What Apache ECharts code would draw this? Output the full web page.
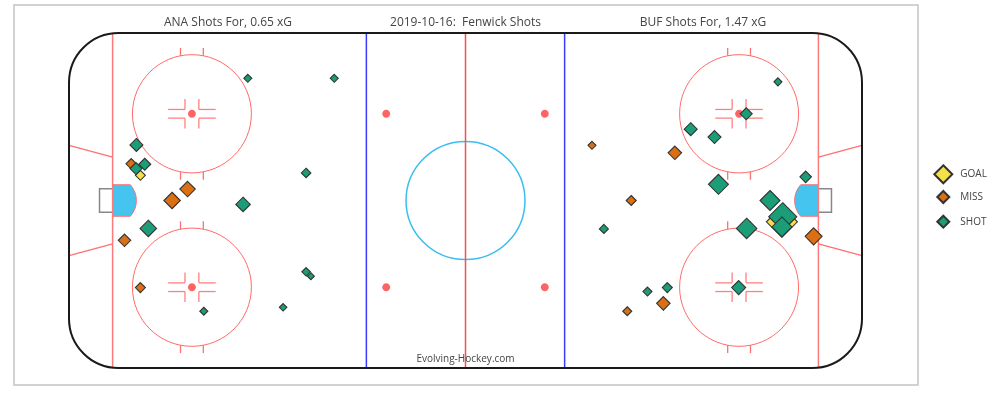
<!DOCTYPE html>
<html>
<head>
<meta charset="utf-8">
<script src="https://cdn.jsdelivr.net/npm/echarts@6/dist/echarts.min.js"></script>
<style>
  html, body { margin: 0; padding: 0; background: #fff; }
  #chart { width: 1000px; height: 397px; }
</style>
</head>
<body>
<div id="chart"></div>
<script>
// shot data: [x ft, y ft, marker size]
var anaGoals = [[-82.0, 6.4, 10]];
var anaMisses = [
    [-84.3, 9.3, 10.5], [-70.1, 2.9, 15.5], [-74.0, 0.0, 16.5],
    [-86.0, -10.1, 12.5], [-82.0, -22.1, 10]
];
var anaShots = [
    [-54.9, 31.0, 8], [-33.1, 31.0, 8], [-83.0, 14.1, 13],
    [-80.9, 9.2, 12], [-83.1, 8.1, 12], [-40.2, 7.0, 9.5],
    [-56.1, -1.0, 14.5], [-80.0, -7.1, 16.5], [-40.2, -18.1, 8.5],
    [-39.0, -19.2, 7], [-66.0, -28.1, 8], [-46.0, -27.1, 7.5]
];
var bufGoals = [[79.8, -5.4, 31]];
var bufMisses = [
    [31.9, 14.0, 8], [52.8, 12.1, 13.5], [41.8, 0.0, 10],
    [87.8, -9.1, 17], [49.9, -26.1, 13.5], [40.8, -28.1, 9]
];
var bufShots = [
    [78.8, 30.1, 8], [70.8, 22.0, 12], [56.8, 18.1, 13],
    [62.8, 16.1, 13], [85.8, 6.0, 11.5], [63.8, 4.1, 20],
    [76.8, 0.0, 20], [80.0, -4.1, 28], [79.8, -6.7, 20],
    [70.9, -7.1, 20.5], [34.9, -7.2, 9], [45.9, -23.1, 9],
    [50.9, -22.1, 10], [68.9, -22.1, 14]
];

var titulos = ['ANA Shots For, 0.65 xG', '2019-10-16:  Fenwick Shots', 'BUF Shots For, 1.47 xG'];
var tipos = ['GOAL', 'MISS', 'SHOT'];
var colores = ['#f5e04b', '#db6f14', '#1b9e77'];

// rink geometry (ft)
var faceoffCircles = [[-69, 22], [-69, -22], [69, 22], [69, -22]];
var neutralDots = [[-20, 22], [-20, -22], [20, 22], [20, -22]];
var blueLines = [-25, 25];
var goalLines = [-89, 89];

function dibujar_pista(params, api) {
    var c = function (x, y) { return api.coord([x, y]); };
    var sx = api.size([1, 0])[0];
    var sy = api.size([0, 1])[1];
    var hijos = [];
    var linea = function (x1, y1, x2, y2, color, w) {
        var a = c(x1, y1), b = c(x2, y2);
        hijos.push({ type: 'line', shape: { x1: a[0], y1: a[1], x2: b[0], y2: b[1] }, style: { stroke: color, lineWidth: w } });
    };
    var tl = c(-100, 42.5), br = c(100, -42.5);
    var esquina = 12.5 * sx;

    hijos.push({ type: 'rect', shape: { x: tl[0], y: tl[1], width: br[0] - tl[0], height: br[1] - tl[1], r: esquina }, style: { fill: '#fff' } });

    // trapezoid
    goalLines.forEach(function (g) {
        var s = g < 0 ? -1 : 1;
        linea(g, 11, s * 100, 14, '#ff7070', 1.3);
        linea(g, -11, s * 100, -14, '#ff7070', 1.3);
    });

    // creases + nets
    goalLines.forEach(function (g) {
        var d = g < 0 ? 1 : -1;
        var p1 = c(g, 4), p2 = c(g + d * 4.47, 4), p3 = c(g + d * 4.47, -4), p4 = c(g, -4);
        var sweep = d > 0 ? 1 : 0;
        var pd = 'M' + p1[0] + ' ' + p1[1] + ' L' + p2[0] + ' ' + p2[1] +
            ' A' + (6 * sx) + ' ' + (6 * sy) + ' 0 0 ' + sweep + ' ' + p3[0] + ' ' + p3[1] +
            ' L' + p4[0] + ' ' + p4[1] + ' Z';
        hijos.push({ type: 'path', shape: { pathData: pd }, style: { fill: '#45c4ef', stroke: '#ff7070', lineWidth: 1 } });
        var n1 = c(g, 3), n2 = c(g - d * 3.3, 3), n3 = c(g - d * 3.3, -3), n4 = c(g, -3);
        hijos.push({ type: 'polyline', shape: { points: [n1, n2, n3, n4] }, style: { fill: null, stroke: '#888', lineWidth: 1.5 } });
    });

    // goal lines
    goalLines.forEach(function (g) { linea(g, 42.5, g, -42.5, '#ff7a7a', 1.5); });

    // faceoff circles
    faceoffCircles.forEach(function (f) {
        var p = c(f[0], f[1]);
        hijos.push({ type: 'ellipse', shape: { cx: p[0], cy: p[1], rx: 15 * sx, ry: 15 * sy }, style: { fill: null, stroke: '#ff6b6b', lineWidth: 1 } });
        hijos.push({ type: 'ellipse', shape: { cx: p[0], cy: p[1], rx: 1 * sx, ry: 1 * sy }, style: { fill: '#ff6464' } });
        [-1, 1].forEach(function (v) {
            [-2.875, 2.875].forEach(function (dx) {
                var y0 = Math.sqrt(225 - dx * dx);
                linea(f[0] + dx, f[1] + v * y0, f[0] + dx, f[1] + v * (y0 + 2), '#ff7070', 1.3);
            });
            [-1, 1].forEach(function (h) {
                linea(f[0] + h * 1.75, f[1] + v * 1.1, f[0] + h * 6, f[1] + v * 1.1, '#ff8080', 1.3);
                linea(f[0] + h * 1.75, f[1] + v * 1.1, f[0] + h * 1.75, f[1] + v * 3.75, '#ff8080', 1.3);
            });
        });
    });

    neutralDots.forEach(function (f) {
        var p = c(f[0], f[1]);
        hijos.push({ type: 'ellipse', shape: { cx: p[0], cy: p[1], rx: 1 * sx, ry: 1 * sy }, style: { fill: '#ff6464' } });
    });

    // center circle, lines
    var cc = c(0, 0);
    hijos.push({ type: 'ellipse', shape: { cx: cc[0], cy: cc[1], rx: 15 * sx, ry: 15 * sy }, style: { fill: null, stroke: '#3cbdf0', lineWidth: 1.5 } });
    blueLines.forEach(function (b) { linea(b, 42.5, b, -42.5, '#3b3bff', 1.5); });
    linea(0, 42.5, 0, -42.5, '#ff4d4d', 1.5);

    // boards
    hijos.push({ type: 'rect', shape: { x: tl[0], y: tl[1], width: br[0] - tl[0], height: br[1] - tl[1], r: esquina }, style: { fill: null, stroke: '#1a1a1a', lineWidth: 2 } });

    return { type: 'group', children: hijos };
}

var myChart01 = echarts.init(document.getElementById('chart'));

var txt = { fontFamily: 'Open Sans', fontWeight: 'normal', color: '#444', fontSize: 12, lineHeight: 14 };
var series = [{
    type: 'custom',
    renderItem: dibujar_pista,
    data: [[0, 0]],
    clip: false,
    silent: true,
    z: 1
}];
var datos = [anaGoals.concat(bufGoals), anaMisses.concat(bufMisses), anaShots.concat(bufShots)];
for (var i = 0; i < tipos.length; i++) {
    series.push({
        name: tipos[i],
        type: 'scatter',
        symbol: 'diamond',
        symbolSize: function (v) { return v[2]; },
        itemStyle: { color: colores[i], borderColor: '#333', borderWidth: 1.1, opacity: 1 },
        data: datos[i],
        silent: true,
        z: 2
    });
}

var leyendas = [
    { name: 'GOAL', left: 928.3, top: 159.3, w: 18, pad: 3 },
    { name: 'MISS', left: 931.3, top: 185, w: 12, pad: 6 },
    { name: 'SHOT', left: 931.3, top: 209.7, w: 12, pad: 6 }
].map(function (l) {
    return {
        data: [{ name: l.name, icon: 'diamond' }],
        left: l.left, top: l.top,
        itemWidth: l.w, itemHeight: l.w,
        selectedMode: false,
        textStyle: { fontFamily: 'Open Sans', fontSize: 10, color: '#444', padding: [0, 0, 0, l.pad] }
    };
});

var option = {
    animation: false,
    title: [
        { text: titulos[0], left: 223, top: 11, textAlign: 'center', textVerticalAlign: 'top', textStyle: txt },
        { text: titulos[1], left: 460.5, top: 11, textAlign: 'center', textVerticalAlign: 'top', textStyle: txt },
        { text: titulos[2], left: 698, top: 11, textAlign: 'center', textVerticalAlign: 'top', textStyle: txt },
        { text: 'Evolving-Hockey.com', left: 460.5, top: 347, textAlign: 'center', textVerticalAlign: 'top',
          textStyle: { fontFamily: 'Open Sans', fontWeight: 'normal', color: '#444', fontSize: 10, lineHeight: 14 } }
    ],
    legend: leyendas,
    graphic: [{ type: 'rect', shape: { x: 14, y: 5, width: 904, height: 380 }, style: { fill: null, stroke: '#c4c4c4', lineWidth: 1.5 }, silent: true, z: -1 }],
    grid: { left: 69, right: 138, top: 33, bottom: 29 },
    xAxis: { type: 'value', min: -100, max: 100, show: false },
    yAxis: { type: 'value', min: -42.5, max: 42.5, show: false },
    series: series
};

myChart01.setOption(option, true);
</script>
</body>
</html>
